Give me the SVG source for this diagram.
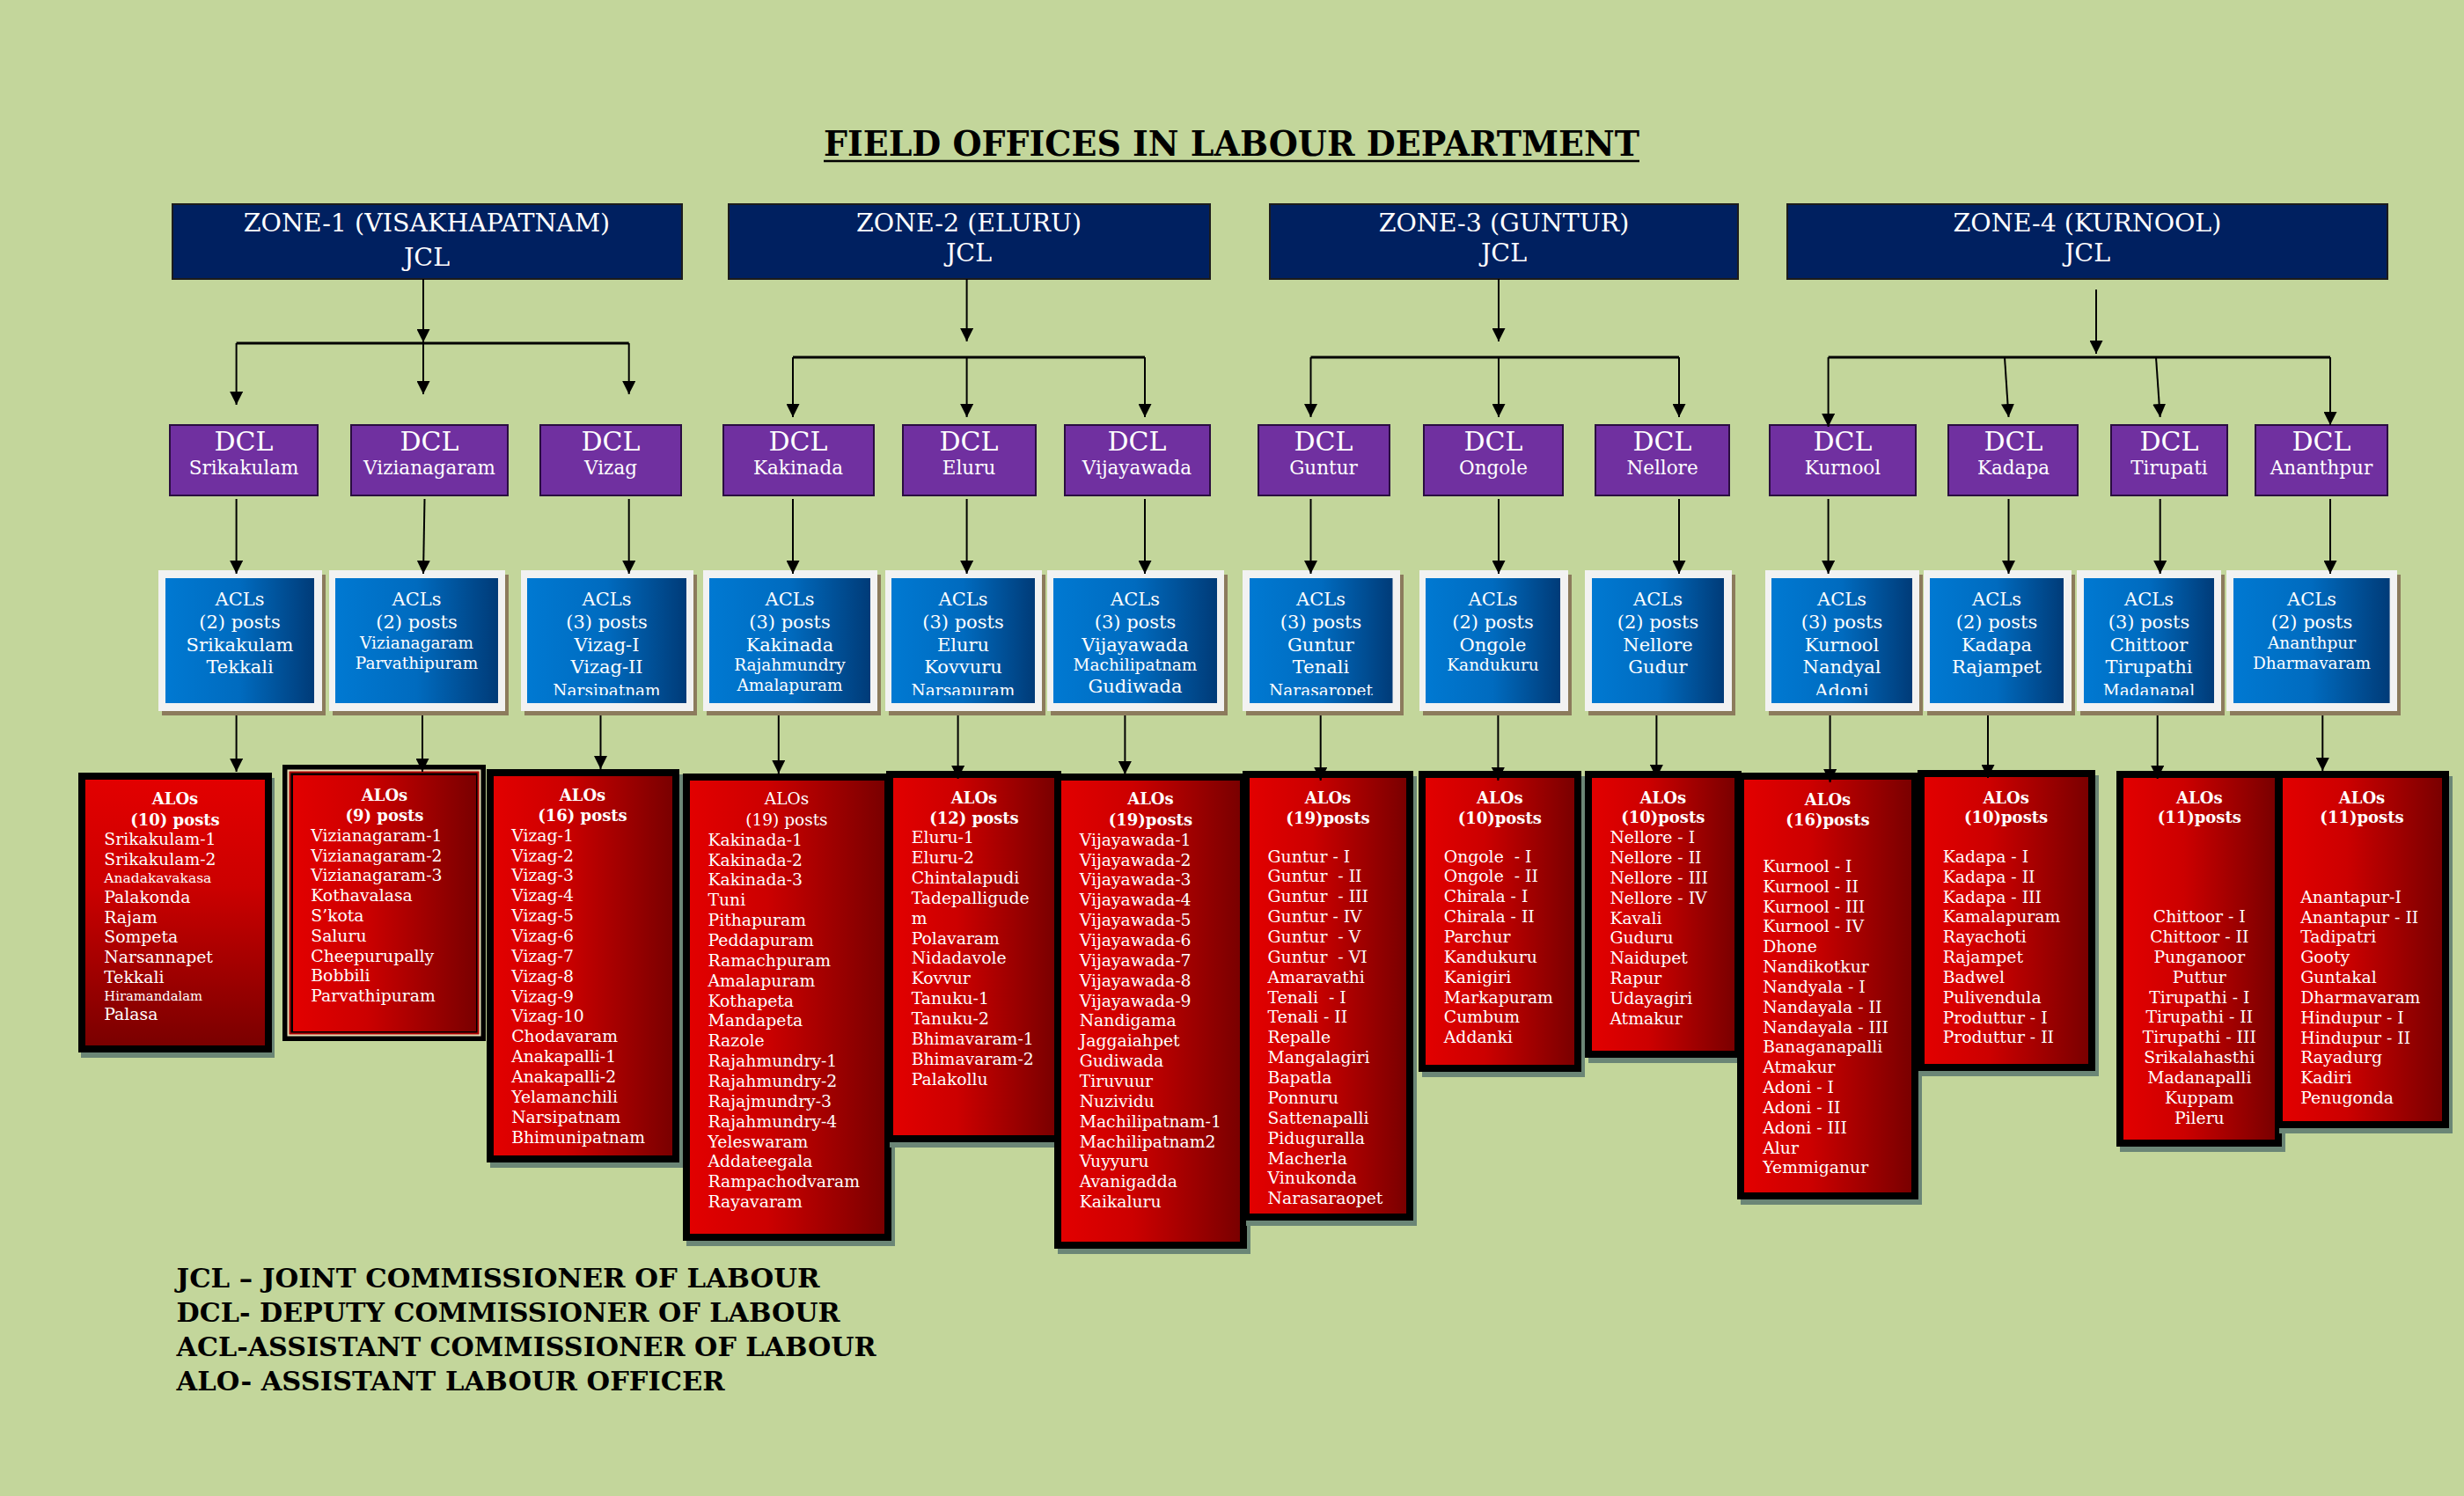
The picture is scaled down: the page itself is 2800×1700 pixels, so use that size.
<svg xmlns="http://www.w3.org/2000/svg" width="2800" height="1700" viewBox="0 0 2800 1700">
<defs>
<style>
.t{font-family:"DejaVu Serif","Liberation Serif",serif;fill:#fff}
.zt{font-size:28.5px;text-anchor:middle}
.zone rect{fill:#002060;stroke:#1c1c1c;stroke-width:2}
.dcl rect{fill:#7030a0;stroke:#2a0d40;stroke-width:2}
.d1{font-size:30px;text-anchor:middle}
.d2{font-size:21.5px;text-anchor:middle}
.fr{fill:#f2f2f2}
.sh{fill:#8c7b5c}
.bl{fill:url(#blue)}
.aL{font-size:21px;text-anchor:middle}
.aS{font-size:18.5px;text-anchor:middle}
.ash{fill:#6b8676}
.abd{fill:#000}
.ah{font-size:18px;font-weight:bold;text-anchor:middle}
.ahr{font-size:18.5px;text-anchor:middle}
.al{font-size:18.8px}
.alc{font-size:18.8px;text-anchor:middle}
.conn line{stroke:#000;stroke-width:2;fill:none}
.conn line.bar{stroke-width:3}
.hd{font-family:"DejaVu Serif","Liberation Serif",serif;font-weight:bold;fill:#000}
</style>
<linearGradient id="blue" x1="0" y1="0" x2="1" y2="0">
<stop offset="0" stop-color="#0079d2"/><stop offset="0.5" stop-color="#006bbf"/><stop offset="1" stop-color="#003b78"/>
</linearGradient>
<linearGradient id="redH" x1="0" y1="0" x2="1" y2="0">
<stop offset="0" stop-color="#e20000"/><stop offset="0.4" stop-color="#cc0000"/><stop offset="1" stop-color="#7a0000"/>
</linearGradient>
<linearGradient id="redV" x1="0" y1="0" x2="0" y2="1">
<stop offset="0" stop-color="#e20000"/><stop offset="0.4" stop-color="#cc0000"/><stop offset="1" stop-color="#7a0000"/>
</linearGradient>
<marker id="ah" markerUnits="userSpaceOnUse" markerWidth="15" markerHeight="15" viewBox="0 0 15 15" refX="15" refY="7.5" orient="auto">
<path d="M0,0 L15,7.5 L0,15 z" fill="#000"/>
</marker>
<clipPath id="aclclip" clipPathUnits="userSpaceOnUse"><rect x="0" y="640" width="2800" height="150"/></clipPath>
</defs>

<rect x="0" y="0" width="2800" height="1700" fill="#c3d69b"/>

<g id="title">
<text class="hd" x="936" y="177" font-size="39" textLength="927" lengthAdjust="spacingAndGlyphs">FIELD OFFICES IN LABOUR DEPARTMENT</text>
<line x1="936" y1="183" x2="1863" y2="183" stroke="#000" stroke-width="2.5"/>
</g>

<!-- Zones -->
<g id="zone1" class="zone"><rect x="196" y="232" width="579" height="85"/>
<text class="t zt" x="485" y="263">ZONE-1 (VISAKHAPATNAM)</text><text class="t zt" x="485" y="302">JCL</text></g>
<g id="zone2" class="zone"><rect x="828" y="232" width="547" height="85"/>
<text class="t zt" x="1101" y="263">ZONE-2 (ELURU)</text><text class="t zt" x="1101" y="297">JCL</text></g>
<g id="zone3" class="zone"><rect x="1443" y="232" width="532" height="85"/>
<text class="t zt" x="1709" y="263">ZONE-3 (GUNTUR)</text><text class="t zt" x="1709" y="297">JCL</text></g>
<g id="zone4" class="zone"><rect x="2031" y="232" width="682" height="85"/>
<text class="t zt" x="2372" y="263">ZONE-4 (KURNOOL)</text><text class="t zt" x="2372" y="297">JCL</text></g>

<!-- DCL -->
<g id="dcl-srikakulam" class="dcl"><rect x="193" y="483" width="168" height="80"/><text class="t d1" x="277" y="512">DCL</text><text class="t d2" x="277" y="539">Srikakulam</text></g>
<g id="dcl-vizianagaram" class="dcl"><rect x="399" y="483" width="178" height="80"/><text class="t d1" x="488" y="512">DCL</text><text class="t d2" x="488" y="539">Vizianagaram</text></g>
<g id="dcl-vizag" class="dcl"><rect x="614" y="483" width="160" height="80"/><text class="t d1" x="694" y="512">DCL</text><text class="t d2" x="694" y="539">Vizag</text></g>
<g id="dcl-kakinada" class="dcl"><rect x="822" y="483" width="171" height="80"/><text class="t d1" x="907" y="512">DCL</text><text class="t d2" x="907" y="539">Kakinada</text></g>
<g id="dcl-eluru" class="dcl"><rect x="1026" y="483" width="151" height="80"/><text class="t d1" x="1101" y="512">DCL</text><text class="t d2" x="1101" y="539">Eluru</text></g>
<g id="dcl-vijayawada" class="dcl"><rect x="1210" y="483" width="165" height="80"/><text class="t d1" x="1292" y="512">DCL</text><text class="t d2" x="1292" y="539">Vijayawada</text></g>
<g id="dcl-guntur" class="dcl"><rect x="1430" y="483" width="149" height="80"/><text class="t d1" x="1504" y="512">DCL</text><text class="t d2" x="1504" y="539">Guntur</text></g>
<g id="dcl-ongole" class="dcl"><rect x="1618" y="483" width="158" height="80"/><text class="t d1" x="1697" y="512">DCL</text><text class="t d2" x="1697" y="539">Ongole</text></g>
<g id="dcl-nellore" class="dcl"><rect x="1813" y="483" width="152" height="80"/><text class="t d1" x="1889" y="512">DCL</text><text class="t d2" x="1889" y="539">Nellore</text></g>
<g id="dcl-kurnool" class="dcl"><rect x="2011" y="483" width="166" height="80"/><text class="t d1" x="2094" y="512">DCL</text><text class="t d2" x="2094" y="539">Kurnool</text></g>
<g id="dcl-kadapa" class="dcl"><rect x="2214" y="483" width="147" height="80"/><text class="t d1" x="2288" y="512">DCL</text><text class="t d2" x="2288" y="539">Kadapa</text></g>
<g id="dcl-tirupati" class="dcl"><rect x="2399" y="483" width="132" height="80"/><text class="t d1" x="2465" y="512">DCL</text><text class="t d2" x="2465" y="539">Tirupati</text></g>
<g id="dcl-ananthpur" class="dcl"><rect x="2563" y="483" width="150" height="80"/><text class="t d1" x="2638" y="512">DCL</text><text class="t d2" x="2638" y="539">Ananthpur</text></g>

<!-- ACL -->
<g id="acl-srikakulam"><rect class="sh" x="184" y="653" width="186" height="160"/><rect class="fr" x="180" y="648" width="186" height="160"/><rect class="bl" x="188" y="657" width="169" height="142"/>
<g clip-path="url(#aclclip)"><text class="t aL" x="272.5" y="688">ACLs</text><text class="t aL" x="272.5" y="714">(2) posts</text><text class="t aL" x="272.5" y="740">Srikakulam</text><text class="t aL" x="272.5" y="765">Tekkali</text></g></g>
<g id="acl-vizianagaram"><rect class="sh" x="378" y="653" width="200" height="160"/><rect class="fr" x="374" y="648" width="200" height="160"/><rect class="bl" x="381" y="657" width="185" height="142"/>
<g clip-path="url(#aclclip)"><text class="t aL" x="473.5" y="688">ACLs</text><text class="t aL" x="473.5" y="714">(2) posts</text><text class="t aS" x="473.5" y="737">Vizianagaram</text><text class="t aS" x="473.5" y="760">Parvathipuram</text></g></g>
<g id="acl-vizag"><rect class="sh" x="596" y="653" width="196" height="160"/><rect class="fr" x="592" y="648" width="196" height="160"/><rect class="bl" x="599" y="657" width="181" height="142"/>
<g clip-path="url(#aclclip)"><text class="t aL" x="689.5" y="688">ACLs</text><text class="t aL" x="689.5" y="714">(3) posts</text><text class="t aL" x="689.5" y="740">Vizag-I</text><text class="t aL" x="689.5" y="765">Vizag-II</text><text class="t aS" x="689.5" y="791">Narsipatnam</text></g></g>
<g id="acl-kakinada"><rect class="sh" x="803" y="653" width="198" height="160"/><rect class="fr" x="799" y="648" width="198" height="160"/><rect class="bl" x="806" y="657" width="183" height="142"/>
<g clip-path="url(#aclclip)"><text class="t aL" x="897.5" y="688">ACLs</text><text class="t aL" x="897.5" y="714">(3) posts</text><text class="t aL" x="897.5" y="740">Kakinada</text><text class="t aS" x="897.5" y="762">Rajahmundry</text><text class="t aS" x="897.5" y="785">Amalapuram</text></g></g>
<g id="acl-eluru"><rect class="sh" x="1010" y="653" width="178" height="160"/><rect class="fr" x="1006" y="648" width="178" height="160"/><rect class="bl" x="1013" y="657" width="163" height="142"/>
<g clip-path="url(#aclclip)"><text class="t aL" x="1094.5" y="688">ACLs</text><text class="t aL" x="1094.5" y="714">(3) posts</text><text class="t aL" x="1094.5" y="740">Eluru</text><text class="t aL" x="1094.5" y="765">Kovvuru</text><text class="t aS" x="1094.5" y="791">Narsapuram</text></g></g>
<g id="acl-vijayawada"><rect class="sh" x="1194" y="653" width="201" height="160"/><rect class="fr" x="1190" y="648" width="201" height="160"/><rect class="bl" x="1197" y="657" width="186" height="142"/>
<g clip-path="url(#aclclip)"><text class="t aL" x="1290" y="688">ACLs</text><text class="t aL" x="1290" y="714">(3) posts</text><text class="t aL" x="1290" y="740">Vijayawada</text><text class="t aS" x="1290" y="762">Machilipatnam</text><text class="t aL" x="1290" y="787">Gudiwada</text></g></g>
<g id="acl-guntur"><rect class="sh" x="1416" y="653" width="179" height="160"/><rect class="fr" x="1412" y="648" width="179" height="160"/><rect class="bl" x="1420" y="657" width="162.5" height="142"/>
<g clip-path="url(#aclclip)"><text class="t aL" x="1501" y="688">ACLs</text><text class="t aL" x="1501" y="714">(3) posts</text><text class="t aL" x="1501" y="740">Guntur</text><text class="t aL" x="1501" y="765">Tenali</text><text class="t aS" x="1501" y="791">Narasaropet</text></g></g>
<g id="acl-ongole"><rect class="sh" x="1617" y="653" width="169" height="160"/><rect class="fr" x="1613" y="648" width="169" height="160"/><rect class="bl" x="1620" y="657" width="153" height="142"/>
<g clip-path="url(#aclclip)"><text class="t aL" x="1696.5" y="688">ACLs</text><text class="t aL" x="1696.5" y="714">(2) posts</text><text class="t aL" x="1696.5" y="740">Ongole</text><text class="t aS" x="1696.5" y="762">Kandukuru</text></g></g>
<g id="acl-nellore"><rect class="sh" x="1805" y="653" width="167" height="160"/><rect class="fr" x="1801" y="648" width="167" height="160"/><rect class="bl" x="1809" y="657" width="150" height="142"/>
<g clip-path="url(#aclclip)"><text class="t aL" x="1884" y="688">ACLs</text><text class="t aL" x="1884" y="714">(2) posts</text><text class="t aL" x="1884" y="740">Nellore</text><text class="t aL" x="1884" y="765">Gudur</text></g></g>
<g id="acl-kurnool"><rect class="sh" x="2010" y="653" width="175" height="160"/><rect class="fr" x="2006" y="648" width="175" height="160"/><rect class="bl" x="2013" y="657" width="160" height="142"/>
<g clip-path="url(#aclclip)"><text class="t aL" x="2093" y="688">ACLs</text><text class="t aL" x="2093" y="714">(3) posts</text><text class="t aL" x="2093" y="740">Kurnool</text><text class="t aL" x="2093" y="765">Nandyal</text><text class="t aL" x="2093" y="792">Adoni</text></g></g>
<g id="acl-kadapa"><rect class="sh" x="2190" y="653" width="168" height="160"/><rect class="fr" x="2186" y="648" width="168" height="160"/><rect class="bl" x="2193" y="657" width="152" height="142"/>
<g clip-path="url(#aclclip)"><text class="t aL" x="2269" y="688">ACLs</text><text class="t aL" x="2269" y="714">(2) posts</text><text class="t aL" x="2269" y="740">Kadapa</text><text class="t aL" x="2269" y="765">Rajampet</text></g></g>
<g id="acl-tirupati"><rect class="sh" x="2364" y="653" width="164" height="160"/><rect class="fr" x="2360" y="648" width="164" height="160"/><rect class="bl" x="2368" y="657" width="148" height="142"/>
<g clip-path="url(#aclclip)"><text class="t aL" x="2442" y="688">ACLs</text><text class="t aL" x="2442" y="714">(3) posts</text><text class="t aL" x="2442" y="740">Chittoor</text><text class="t aL" x="2442" y="765">Tirupathi</text><text class="t aS" x="2442" y="791">Madanapal</text></g></g>
<g id="acl-ananthpur"><rect class="sh" x="2534" y="653" width="194" height="160"/><rect class="fr" x="2530" y="648" width="194" height="160"/><rect class="bl" x="2538" y="657" width="177.6" height="142"/>
<g clip-path="url(#aclclip)"><text class="t aL" x="2627" y="688">ACLs</text><text class="t aL" x="2627" y="714">(2) posts</text><text class="t aS" x="2627" y="737">Ananthpur</text><text class="t aS" x="2627" y="760">Dharmavaram</text></g></g>

<!-- ALO -->
<g id="alo-srikakulam"><rect class="ash" x="92" y="884" width="220" height="318"/><rect class="abd" x="89" y="878" width="220" height="318"/><rect x="97" y="886" width="204" height="302" fill="url(#redV)"/>
<text class="t ah" x="199" y="914">ALOs</text><text class="t ah" x="199" y="938">(10) posts</text>
<text class="t al" x="118.3" y="960">Srikakulam-1</text><text class="t al" x="118.3" y="983">Srikakulam-2</text><text class="t" font-size="15.5" x="118.3" y="1003">Anadakavakasa</text><text class="t al" x="118.3" y="1025.7">Palakonda</text><text class="t al" x="118.3" y="1048.7">Rajam</text><text class="t al" x="118.3" y="1071">Sompeta</text><text class="t al" x="118.3" y="1094">Narsannapet</text><text class="t al" x="118.3" y="1116.7">Tekkali</text><text class="t" font-size="14.8" x="118.3" y="1137">Hiramandalam</text><text class="t al" x="118.3" y="1159">Palasa</text></g>

<g id="alo-vizianagaram"><rect x="321" y="869" width="231" height="314" fill="#000"/><rect x="326.5" y="874.5" width="220" height="303" fill="#e6dcb4"/><rect x="328.5" y="876.5" width="216" height="299" fill="#b00000"/><rect x="330.5" y="878.5" width="212" height="295" fill="#000"/><rect x="333" y="881" width="208" height="291" fill="url(#redH)"/>
<text class="t ah" x="437" y="910">ALOs</text><text class="t ah" x="437" y="932.7">(9) posts</text>
<text class="t al" x="353.3" y="955.7">Vizianagaram-1<tspan x="353.3" dy="22.8">Vizianagaram-2</tspan><tspan x="353.3" dy="22.8">Vizianagaram-3</tspan><tspan x="353.3" dy="22.8">Kothavalasa</tspan><tspan x="353.3" dy="22.8">S’kota</tspan><tspan x="353.3" dy="22.8">Saluru</tspan><tspan x="353.3" dy="22.8">Cheepurupally</tspan><tspan x="353.3" dy="22.8">Bobbili</tspan><tspan x="353.3" dy="22.8">Parvathipuram</tspan></text></g>

<g id="alo-vizag"><rect class="ash" x="557" y="880" width="219" height="447"/><rect class="abd" x="553" y="874" width="219" height="447"/><rect x="561" y="882" width="203" height="431" fill="url(#redH)"/>
<text class="t ah" x="662" y="910">ALOs</text><text class="t ah" x="662" y="933">(16) posts</text>
<text class="t al" x="581.2" y="955.7">Vizag-1<tspan x="581.2" dy="22.86">Vizag-2</tspan><tspan x="581.2" dy="22.86">Vizag-3</tspan><tspan x="581.2" dy="22.86">Vizag-4</tspan><tspan x="581.2" dy="22.86">Vizag-5</tspan><tspan x="581.2" dy="22.86">Vizag-6</tspan><tspan x="581.2" dy="22.86">Vizag-7</tspan><tspan x="581.2" dy="22.86">Vizag-8</tspan><tspan x="581.2" dy="22.86">Vizag-9</tspan><tspan x="581.2" dy="22.86">Vizag-10</tspan><tspan x="581.2" dy="22.86">Chodavaram</tspan><tspan x="581.2" dy="22.86">Anakapalli-1</tspan><tspan x="581.2" dy="22.86">Anakapalli-2</tspan><tspan x="581.2" dy="22.86">Yelamanchili</tspan><tspan x="581.2" dy="22.86">Narsipatnam</tspan><tspan x="581.2" dy="22.86">Bhimunipatnam</tspan></text></g>

<g id="alo-kakinada"><rect class="ash" x="780" y="885" width="237" height="531"/><rect class="abd" x="776" y="879" width="237" height="531"/><rect x="784" y="887" width="221" height="515" fill="url(#redH)"/>
<text class="t ahr" x="894" y="914.3">ALOs</text><text class="t ahr" x="894" y="937.9">(19) posts</text>
<text class="t al" x="804.5" y="960.7">Kakinada-1<tspan x="804.5" dy="22.86">Kakinada-2</tspan><tspan x="804.5" dy="22.86">Kakinada-3</tspan><tspan x="804.5" dy="22.86">Tuni</tspan><tspan x="804.5" dy="22.86">Pithapuram</tspan><tspan x="804.5" dy="22.86">Peddapuram</tspan><tspan x="804.5" dy="22.86">Ramachpuram</tspan><tspan x="804.5" dy="22.86">Amalapuram</tspan><tspan x="804.5" dy="22.86">Kothapeta</tspan><tspan x="804.5" dy="22.86">Mandapeta</tspan><tspan x="804.5" dy="22.86">Razole</tspan><tspan x="804.5" dy="22.86">Rajahmundry-1</tspan><tspan x="804.5" dy="22.86">Rajahmundry-2</tspan><tspan x="804.5" dy="22.86">Rajajmundry-3</tspan><tspan x="804.5" dy="22.86">Rajahmundry-4</tspan><tspan x="804.5" dy="22.86">Yeleswaram</tspan><tspan x="804.5" dy="22.86">Addateegala</tspan><tspan x="804.5" dy="22.86">Rampachodvaram</tspan><tspan x="804.5" dy="22.86">Rayavaram</tspan></text></g>

<g id="alo-eluru"><rect class="ash" x="1011" y="882" width="199" height="422"/><rect class="abd" x="1007" y="876" width="199" height="422"/><rect x="1015" y="884" width="183" height="406" fill="url(#redH)"/>
<text class="t ah" x="1107" y="912.5">ALOs</text><text class="t ah" x="1107" y="935.7">(12) posts</text>
<text class="t al" x="1035.7" y="958.2">Eluru-1<tspan x="1035.7" dy="22.86">Eluru-2</tspan><tspan x="1035.7" dy="22.86">Chintalapudi</tspan><tspan x="1035.7" dy="22.86">Tadepalligude</tspan><tspan x="1035.7" dy="22.86">m</tspan><tspan x="1035.7" dy="22.86">Polavaram</tspan><tspan x="1035.7" dy="22.86">Nidadavole</tspan><tspan x="1035.7" dy="22.86">Kovvur</tspan><tspan x="1035.7" dy="22.86">Tanuku-1</tspan><tspan x="1035.7" dy="22.86">Tanuku-2</tspan><tspan x="1035.7" dy="22.86">Bhimavaram-1</tspan><tspan x="1035.7" dy="22.86">Bhimavaram-2</tspan><tspan x="1035.7" dy="22.86">Palakollu</tspan></text></g>

<g id="alo-vijayawada"><rect class="ash" x="1202" y="885" width="219" height="540"/><rect class="abd" x="1198" y="879" width="219" height="540"/><rect x="1206" y="887" width="203" height="524" fill="url(#redH)"/>
<text class="t ah" x="1307.4" y="914.3">ALOs</text><text class="t ah" x="1307.4" y="937.5">(19)posts</text>
<text class="t al" x="1226.7" y="960.7">Vijayawada-1<tspan x="1226.7" dy="22.86">Vijayawada-2</tspan><tspan x="1226.7" dy="22.86">Vijayawada-3</tspan><tspan x="1226.7" dy="22.86">Vijayawada-4</tspan><tspan x="1226.7" dy="22.86">Vijayawada-5</tspan><tspan x="1226.7" dy="22.86">Vijayawada-6</tspan><tspan x="1226.7" dy="22.86">Vijayawada-7</tspan><tspan x="1226.7" dy="22.86">Vijayawada-8</tspan><tspan x="1226.7" dy="22.86">Vijayawada-9</tspan><tspan x="1226.7" dy="22.86">Nandigama</tspan><tspan x="1226.7" dy="22.86">Jaggaiahpet</tspan><tspan x="1226.7" dy="22.86">Gudiwada</tspan><tspan x="1226.7" dy="22.86">Tiruvuur</tspan><tspan x="1226.7" dy="22.86">Nuzividu</tspan><tspan x="1226.7" dy="22.86">Machilipatnam-1</tspan><tspan x="1226.7" dy="22.86">Machilipatnam2</tspan><tspan x="1226.7" dy="22.86">Vuyyuru</tspan><tspan x="1226.7" dy="22.86">Avanigadda</tspan><tspan x="1226.7" dy="22.86">Kaikaluru</tspan></text></g>

<g id="alo-guntur"><rect class="ash" x="1416" y="882" width="194" height="511"/><rect class="abd" x="1412" y="876" width="194" height="511"/><rect x="1420" y="884" width="178" height="495" fill="url(#redH)"/>
<text class="t ah" x="1509" y="912.9">ALOs</text><text class="t ah" x="1509" y="935.7">(19)posts</text>
<text class="t al" x="1440.6" y="979.6">Guntur - I<tspan x="1440.6" dy="22.86">Guntur&#160; - II</tspan><tspan x="1440.6" dy="22.86">Guntur&#160; - III</tspan><tspan x="1440.6" dy="22.86">Guntur - IV</tspan><tspan x="1440.6" dy="22.86">Guntur&#160; - V</tspan><tspan x="1440.6" dy="22.86">Guntur&#160; - VI</tspan><tspan x="1440.6" dy="22.86">Amaravathi</tspan><tspan x="1440.6" dy="22.86">Tenali&#160; - I</tspan><tspan x="1440.6" dy="22.86">Tenali - II</tspan><tspan x="1440.6" dy="22.86">Repalle</tspan><tspan x="1440.6" dy="22.86">Mangalagiri</tspan><tspan x="1440.6" dy="22.86">Bapatla</tspan><tspan x="1440.6" dy="22.86">Ponnuru</tspan><tspan x="1440.6" dy="22.86">Sattenapalli</tspan><tspan x="1440.6" dy="22.86">Piduguralla</tspan><tspan x="1440.6" dy="22.86">Macherla</tspan><tspan x="1440.6" dy="22.86">Vinukonda</tspan><tspan x="1440.6" dy="22.86">Narasaraopet</tspan></text></g>

<g id="alo-ongole"><rect class="ash" x="1616" y="882" width="185" height="342"/><rect class="abd" x="1612" y="876" width="185" height="342"/><rect x="1620" y="884" width="169" height="326" fill="url(#redH)"/>
<text class="t ah" x="1704.3" y="912.9">ALOs</text><text class="t ah" x="1704.3" y="935.7">(10)posts</text>
<text class="t al" x="1640.8" y="979.6">Ongole&#160; - I<tspan x="1640.8" dy="22.86">Ongole&#160; - II</tspan><tspan x="1640.8" dy="22.86">Chirala - I</tspan><tspan x="1640.8" dy="22.86">Chirala - II</tspan><tspan x="1640.8" dy="22.86">Parchur</tspan><tspan x="1640.8" dy="22.86">Kandukuru</tspan><tspan x="1640.8" dy="22.86">Kanigiri</tspan><tspan x="1640.8" dy="22.86">Markapuram</tspan><tspan x="1640.8" dy="22.86">Cumbum</tspan><tspan x="1640.8" dy="22.86">Addanki</tspan></text></g>

<g id="alo-nellore"><rect class="ash" x="1805" y="882" width="178" height="326"/><rect class="abd" x="1801" y="876" width="178" height="326"/><rect x="1809" y="884" width="162" height="310" fill="url(#redH)"/>
<text class="t ah" x="1889.8" y="912.7">ALOs</text><text class="t ah" x="1889.8" y="935.3">(10)posts</text>
<text class="t al" x="1829.4" y="958.3">Nellore - I<tspan x="1829.4" dy="22.83">Nellore - II</tspan><tspan x="1829.4" dy="22.83">Nellore - III</tspan><tspan x="1829.4" dy="22.83">Nellore - IV</tspan><tspan x="1829.4" dy="22.83">Kavali</tspan><tspan x="1829.4" dy="22.83">Guduru</tspan><tspan x="1829.4" dy="22.83">Naidupet</tspan><tspan x="1829.4" dy="22.83">Rapur</tspan><tspan x="1829.4" dy="22.83">Udayagiri</tspan><tspan x="1829.4" dy="22.83">Atmakur</tspan></text></g>

<g id="alo-kurnool"><rect class="ash" x="1978" y="884" width="206" height="485"/><rect class="abd" x="1974" y="878" width="206" height="485"/><rect x="1982" y="886" width="190" height="469" fill="url(#redH)"/>
<text class="t ah" x="2077" y="915">ALOs</text><text class="t ah" x="2077" y="937.7">(16)posts</text>
<text class="t al" x="2003.3" y="991">Kurnool - I<tspan x="2003.3" dy="22.83">Kurnool - II</tspan><tspan x="2003.3" dy="22.83">Kurnool - III</tspan><tspan x="2003.3" dy="22.83">Kurnool - IV</tspan><tspan x="2003.3" dy="22.83">Dhone</tspan><tspan x="2003.3" dy="22.83">Nandikotkur</tspan><tspan x="2003.3" dy="22.83">Nandyala - I</tspan><tspan x="2003.3" dy="22.83">Nandayala - II</tspan><tspan x="2003.3" dy="22.83">Nandayala - III</tspan><tspan x="2003.3" dy="22.83">Banaganapalli</tspan><tspan x="2003.3" dy="22.83">Atmakur</tspan><tspan x="2003.3" dy="22.83">Adoni - I</tspan><tspan x="2003.3" dy="22.83">Adoni - II</tspan><tspan x="2003.3" dy="22.83">Adoni - III</tspan><tspan x="2003.3" dy="22.83">Alur</tspan><tspan x="2003.3" dy="22.83">Yemmiganur</tspan></text></g>

<g id="alo-kadapa"><rect class="ash" x="2183" y="881" width="202" height="342"/><rect class="abd" x="2179" y="875" width="202" height="342"/><rect x="2187" y="883" width="186" height="326" fill="url(#redH)"/>
<text class="t ah" x="2279.6" y="912.7">ALOs</text><text class="t ah" x="2279.6" y="935.3">(10)posts</text>
<text class="t al" x="2207.7" y="980">Kadapa - I<tspan x="2207.7" dy="22.83">Kadapa - II</tspan><tspan x="2207.7" dy="22.83">Kadapa - III</tspan><tspan x="2207.7" dy="22.83">Kamalapuram</tspan><tspan x="2207.7" dy="22.83">Rayachoti</tspan><tspan x="2207.7" dy="22.83">Rajampet</tspan><tspan x="2207.7" dy="22.83">Badwel</tspan><tspan x="2207.7" dy="22.83">Pulivendula</tspan><tspan x="2207.7" dy="22.83">Produttur - I</tspan><tspan x="2207.7" dy="22.83">Produttur - II</tspan></text></g>

<g id="alo-tirupati"><rect class="ash" x="2409" y="882" width="188" height="427"/><rect class="abd" x="2405" y="876" width="188" height="427"/><rect x="2413" y="884" width="172" height="411" fill="url(#redH)"/>
<text class="t ah" x="2499.3" y="912.7">ALOs</text><text class="t ah" x="2499.3" y="935.3">(11)posts</text>
<text class="t alc" x="2499.3" y="1048.3">Chittoor - I<tspan x="2499.3" dy="22.83">Chittoor - II</tspan><tspan x="2499.3" dy="22.83">Punganoor</tspan><tspan x="2499.3" dy="22.83">Puttur</tspan><tspan x="2499.3" dy="22.83">Tirupathi - I</tspan><tspan x="2499.3" dy="22.83">Tirupathi - II</tspan><tspan x="2499.3" dy="22.83">Tirupathi - III</tspan><tspan x="2499.3" dy="22.83">Srikalahasthi</tspan><tspan x="2499.3" dy="22.83">Madanapalli</tspan><tspan x="2499.3" dy="22.83">Kuppam</tspan><tspan x="2499.3" dy="22.83">Pileru</tspan></text></g>

<g id="alo-ananthpur"><rect class="ash" x="2590" y="882" width="197" height="406"/><rect class="abd" x="2586" y="876" width="197" height="406"/><rect x="2594" y="884" width="181" height="390" fill="url(#redH)"/>
<text class="t ah" x="2684" y="912.7">ALOs</text><text class="t ah" x="2684" y="935.3">(11)posts</text>
<text class="t al" x="2614.3" y="1025.7">Anantapur-I<tspan x="2614.3" dy="22.83">Anantapur - II</tspan><tspan x="2614.3" dy="22.83">Tadipatri</tspan><tspan x="2614.3" dy="22.83">Gooty</tspan><tspan x="2614.3" dy="22.83">Guntakal</tspan><tspan x="2614.3" dy="22.83">Dharmavaram</tspan><tspan x="2614.3" dy="22.83">Hindupur - I</tspan><tspan x="2614.3" dy="22.83">Hindupur - II</tspan><tspan x="2614.3" dy="22.83">Rayadurg</tspan><tspan x="2614.3" dy="22.83">Kadiri</tspan><tspan x="2614.3" dy="22.83">Penugonda</tspan></text></g>

<!-- Connectors -->
<g id="connectors" class="conn">
<line x1="481" y1="317" x2="481" y2="389" marker-end="url(#ah)"/>
<line class="bar" x1="268.6" y1="390" x2="714.7" y2="390"/>
<line x1="268.6" y1="390" x2="268.6" y2="460" marker-end="url(#ah)"/>
<line x1="481" y1="390" x2="481" y2="448" marker-end="url(#ah)"/>
<line x1="714.7" y1="390" x2="714.7" y2="448" marker-end="url(#ah)"/>

<line x1="1098.6" y1="317" x2="1098.6" y2="388" marker-end="url(#ah)"/>
<line class="bar" x1="901" y1="406" x2="1301" y2="406"/>
<line x1="901" y1="406" x2="901" y2="474" marker-end="url(#ah)"/>
<line x1="1098.6" y1="406" x2="1098.6" y2="474" marker-end="url(#ah)"/>
<line x1="1301" y1="406" x2="1301" y2="474" marker-end="url(#ah)"/>

<line x1="1703" y1="317" x2="1703" y2="388" marker-end="url(#ah)"/>
<line class="bar" x1="1489.5" y1="406" x2="1908" y2="406"/>
<line x1="1489.5" y1="406" x2="1489.5" y2="474" marker-end="url(#ah)"/>
<line x1="1703" y1="406" x2="1703" y2="474" marker-end="url(#ah)"/>
<line x1="1908" y1="406" x2="1908" y2="474" marker-end="url(#ah)"/>

<line x1="2382" y1="329" x2="2382" y2="402" marker-end="url(#ah)"/>
<line class="bar" x1="2077.6" y1="406" x2="2648" y2="406"/>
<line x1="2077.6" y1="406" x2="2077.6" y2="485" marker-end="url(#ah)"/>
<line x1="2278" y1="406" x2="2282.5" y2="474" marker-end="url(#ah)"/>
<line x1="2450" y1="406" x2="2454.7" y2="474" marker-end="url(#ah)"/>
<line x1="2648" y1="406" x2="2648" y2="483" marker-end="url(#ah)"/>

<line x1="268.6" y1="567" x2="268.6" y2="652" marker-end="url(#ah)"/>
<line x1="482.5" y1="567" x2="481" y2="652" marker-end="url(#ah)"/>
<line x1="714.7" y1="567" x2="714.7" y2="652" marker-end="url(#ah)"/>
<line x1="901" y1="567" x2="901" y2="652" marker-end="url(#ah)"/>
<line x1="1098.6" y1="567" x2="1098.6" y2="652" marker-end="url(#ah)"/>
<line x1="1301" y1="567" x2="1301" y2="652" marker-end="url(#ah)"/>
<line x1="1489.5" y1="567" x2="1489.5" y2="652" marker-end="url(#ah)"/>
<line x1="1703" y1="567" x2="1703" y2="652" marker-end="url(#ah)"/>
<line x1="1908" y1="567" x2="1908" y2="652" marker-end="url(#ah)"/>
<line x1="2077.6" y1="567" x2="2077.6" y2="652" marker-end="url(#ah)"/>
<line x1="2282.5" y1="567" x2="2282.5" y2="652" marker-end="url(#ah)"/>
<line x1="2454.7" y1="567" x2="2454.7" y2="652" marker-end="url(#ah)"/>
<line x1="2648" y1="567" x2="2648" y2="652" marker-end="url(#ah)"/>

<line x1="268.6" y1="813" x2="268.6" y2="877" marker-end="url(#ah)"/>
<line x1="480" y1="813" x2="480" y2="877" marker-end="url(#ah)"/>
<line x1="682.5" y1="813" x2="682.5" y2="874" marker-end="url(#ah)"/>
<line x1="884.8" y1="813" x2="884.8" y2="879" marker-end="url(#ah)"/>
<line x1="1088.6" y1="813" x2="1088.6" y2="885" marker-end="url(#ah)"/>
<line x1="1278.4" y1="813" x2="1278.4" y2="880" marker-end="url(#ah)"/>
<line x1="1500.7" y1="813" x2="1500.7" y2="887" marker-end="url(#ah)"/>
<line x1="1702.4" y1="813" x2="1702.4" y2="887" marker-end="url(#ah)"/>
<line x1="1882.4" y1="813" x2="1882.4" y2="884" marker-end="url(#ah)"/>
<line x1="2079.6" y1="813" x2="2079.6" y2="889" marker-end="url(#ah)"/>
<line x1="2259" y1="813" x2="2259" y2="884" marker-end="url(#ah)"/>
<line x1="2451.7" y1="813" x2="2451.7" y2="885" marker-end="url(#ah)"/>
<line x1="2639.3" y1="813" x2="2639.3" y2="876" marker-end="url(#ah)"/>
</g>

<!-- Legend -->
<g id="legend">
<text class="hd" x="200.6" y="1463" font-size="30" textLength="731" lengthAdjust="spacingAndGlyphs">JCL – JOINT COMMISSIONER OF LABOUR</text>
<text class="hd" x="200.6" y="1502" font-size="30" textLength="754" lengthAdjust="spacingAndGlyphs">DCL- DEPUTY COMMISSIONER OF LABOUR</text>
<text class="hd" x="200.6" y="1541" font-size="30" textLength="795" lengthAdjust="spacingAndGlyphs">ACL-ASSISTANT COMMISSIONER OF LABOUR</text>
<text class="hd" x="200.6" y="1580" font-size="30" textLength="623" lengthAdjust="spacingAndGlyphs">ALO- ASSISTANT LABOUR OFFICER</text>
</g>
</svg>
